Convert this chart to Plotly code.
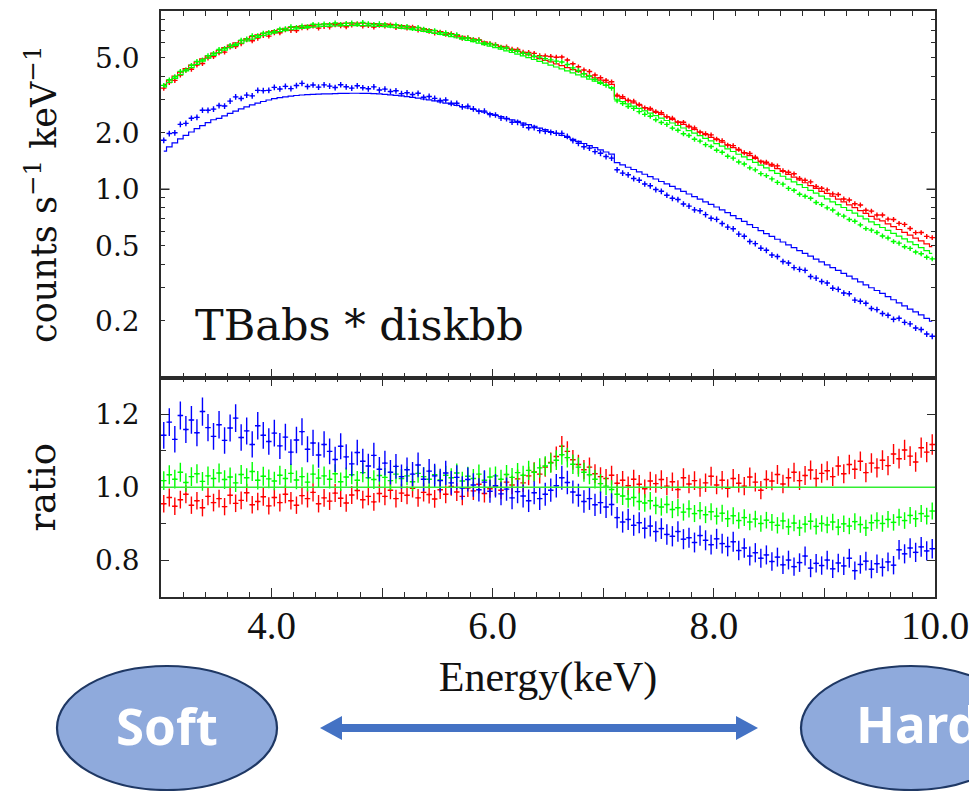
import plotly.graph_objects as go

# ---------------- data ----------------
ENERGY = [
    3.025, 3.075, 3.125, 3.175, 3.225, 3.275, 3.325, 3.375, 3.425, 3.475,
    3.525, 3.575, 3.625, 3.675, 3.725, 3.775, 3.825, 3.875, 3.925, 3.975,
    4.025, 4.075, 4.125, 4.175, 4.225, 4.275, 4.325, 4.375, 4.425, 4.475,
    4.525, 4.575, 4.625, 4.675, 4.725, 4.775, 4.825, 4.875, 4.925, 4.975,
    5.025, 5.075, 5.125, 5.175, 5.225, 5.275, 5.325, 5.375, 5.425, 5.475,
    5.525, 5.575, 5.625, 5.675, 5.725, 5.775, 5.825, 5.875, 5.925, 5.975,
    6.025, 6.075, 6.125, 6.175, 6.225, 6.275, 6.325, 6.375, 6.425, 6.475,
    6.525, 6.575, 6.625, 6.675, 6.725, 6.775, 6.825, 6.875, 6.925, 6.975,
    7.025, 7.075, 7.125, 7.175, 7.225, 7.275, 7.325, 7.375, 7.425, 7.475,
    7.525, 7.575, 7.625, 7.675, 7.725, 7.775, 7.825, 7.875, 7.925, 7.975,
    8.025, 8.075, 8.125, 8.175, 8.225, 8.275, 8.325, 8.375, 8.425, 8.475,
    8.525, 8.575, 8.625, 8.675, 8.725, 8.775, 8.825, 8.875, 8.925, 8.975,
    9.025, 9.075, 9.125, 9.175, 9.225, 9.275, 9.325, 9.375, 9.425, 9.475,
    9.525, 9.575, 9.625, 9.675, 9.725, 9.775, 9.825, 9.875, 9.925, 9.975,
]
BIN_HALF_WIDTH = 0.025

# folded model (counts s^-1 keV^-1)
MODEL_R = [
    3.613, 3.808, 4.002, 4.194, 4.384, 4.569, 4.756, 4.941, 5.125, 5.307,
    5.488, 5.665, 5.838, 6.007, 6.171, 6.329, 6.480, 6.622, 6.755, 6.877,
    6.989, 7.092, 7.183, 7.265, 7.336, 7.395, 7.448, 7.494, 7.534, 7.565,
    7.592, 7.613, 7.629, 7.640, 7.645, 7.645, 7.637, 7.624, 7.602, 7.575,
    7.576, 7.535, 7.486, 7.431, 7.370, 7.303, 7.232, 7.155, 7.074, 6.990,
    6.901, 6.810, 6.715, 6.617, 6.515, 6.411, 6.305, 6.198, 6.088, 5.977,
    5.864, 5.751, 5.639, 5.525, 5.411, 5.296, 5.183, 5.070, 4.959, 4.847,
    4.760, 4.650, 4.541, 4.432, 4.325, 4.220, 4.115, 4.012, 3.910, 3.810,
    3.710, 3.611, 3.132, 3.048, 2.964, 2.882, 2.801, 2.721, 2.643, 2.566,
    2.502, 2.428, 2.354, 2.283, 2.214, 2.146, 2.081, 2.016, 1.952, 1.891,
    1.840, 1.781, 1.723, 1.668, 1.614, 1.561, 1.510, 1.461, 1.412, 1.365,
    1.332, 1.288, 1.244, 1.202, 1.162, 1.123, 1.084, 1.047, 1.011, 0.976,
    0.951, 0.919, 0.887, 0.857, 0.827, 0.799, 0.771, 0.745, 0.719, 0.694,
    0.680, 0.656, 0.634, 0.612, 0.591, 0.571, 0.551, 0.532, 0.513, 0.496,
]
MODEL_G = [
    3.508, 3.697, 3.885, 4.072, 4.256, 4.436, 4.617, 4.797, 4.976, 5.152,
    5.328, 5.500, 5.668, 5.832, 5.991, 6.145, 6.291, 6.429, 6.558, 6.677,
    6.785, 6.885, 6.974, 7.053, 7.122, 7.180, 7.231, 7.276, 7.315, 7.345,
    7.371, 7.391, 7.407, 7.417, 7.422, 7.422, 7.415, 7.402, 7.381, 7.354,
    7.320, 7.280, 7.233, 7.180, 7.121, 7.056, 6.987, 6.913, 6.835, 6.754,
    6.668, 6.580, 6.488, 6.393, 6.295, 6.194, 6.092, 5.988, 5.882, 5.775,
    5.666, 5.557, 5.448, 5.338, 5.228, 5.117, 5.008, 4.899, 4.791, 4.683,
    4.577, 4.471, 4.366, 4.262, 4.159, 4.058, 3.957, 3.858, 3.760, 3.663,
    3.567, 3.472, 3.012, 2.931, 2.850, 2.771, 2.693, 2.616, 2.541, 2.467,
    2.394, 2.323, 2.253, 2.185, 2.119, 2.054, 1.991, 1.929, 1.868, 1.810,
    1.752, 1.696, 1.641, 1.589, 1.537, 1.487, 1.438, 1.391, 1.345, 1.300,
    1.257, 1.215, 1.174, 1.134, 1.096, 1.059, 1.023, 0.988, 0.954, 0.921,
    0.889, 0.859, 0.829, 0.801, 0.773, 0.747, 0.721, 0.696, 0.672, 0.649,
    0.627, 0.605, 0.584, 0.564, 0.545, 0.526, 0.508, 0.490, 0.473, 0.457,
]
MODEL_B = [
    1.596, 1.682, 1.768, 1.853, 1.936, 2.018, 2.101, 2.183, 2.264, 2.344,
    2.382, 2.459, 2.534, 2.607, 2.678, 2.747, 2.812, 2.874, 2.931, 2.985,
    3.033, 3.071, 3.103, 3.132, 3.155, 3.174, 3.189, 3.201, 3.211, 3.217,
    3.221, 3.230, 3.237, 3.241, 3.243, 3.243, 3.240, 3.235, 3.225, 3.214,
    3.199, 3.181, 3.161, 3.138, 3.112, 3.083, 3.053, 3.021, 2.987, 2.952,
    2.914, 2.875, 2.835, 2.794, 2.751, 2.707, 2.662, 2.617, 2.570, 2.524,
    2.476, 2.434, 2.386, 2.343, 2.300, 2.251, 2.209, 2.165, 2.118, 2.075,
    2.028, 1.981, 1.934, 1.888, 1.842, 1.798, 1.753, 1.709, 1.666, 1.623,
    1.580, 1.538, 1.386, 1.348, 1.311, 1.275, 1.239, 1.203, 1.169, 1.135,
    1.101, 1.069, 1.036, 1.005, 0.975, 0.945, 0.916, 0.887, 0.859, 0.833,
    0.806, 0.778, 0.752, 0.725, 0.699, 0.675, 0.650, 0.627, 0.604, 0.582,
    0.562, 0.543, 0.525, 0.507, 0.490, 0.473, 0.457, 0.442, 0.426, 0.412,
    0.397, 0.384, 0.371, 0.358, 0.346, 0.334, 0.322, 0.311, 0.300, 0.290,
    0.280, 0.269, 0.259, 0.249, 0.240, 0.231, 0.223, 0.215, 0.206, 0.199,
]

# data / model ratio
RATIO_R = [
    0.955, 0.972, 0.948, 0.966, 0.981, 0.951, 0.963, 0.944, 0.975, 0.958,
    0.969, 0.947, 0.978, 0.956, 0.964, 0.985, 0.952, 0.961, 0.974, 0.949,
    0.972, 0.958, 0.981, 0.963, 0.951, 0.977, 0.969, 0.986, 0.955, 0.971,
    0.962, 0.984, 0.970, 0.957, 0.979, 0.991, 0.966, 0.975, 0.960, 0.983,
    0.975, 0.992, 0.969, 0.984, 0.978, 0.997, 0.971, 0.986, 0.980, 0.968,
    0.993, 0.981, 1.002, 0.987, 0.975, 0.998, 0.990, 1.008, 0.983, 0.996,
    1.001, 0.992, 1.014, 1.006, 1.023, 1.012, 1.031, 1.042, 1.036, 1.055,
    1.068, 1.084, 1.112, 1.098, 1.075, 1.062, 1.048, 1.055, 1.037, 1.029,
    1.024, 1.033, 1.011, 1.019, 1.004, 1.022, 1.008, 0.996, 1.017, 1.010,
    1.021, 1.003, 1.015, 0.994, 1.026, 1.009, 1.018, 0.999, 1.012, 1.030,
    1.006, 1.019, 0.997, 1.024, 1.011, 1.003, 1.028, 1.014, 0.992, 1.021,
    1.017, 1.035, 1.009, 1.026, 1.041, 1.018, 1.032, 1.047, 1.024, 1.038,
    1.045, 1.029, 1.058, 1.037, 1.062, 1.049, 1.071, 1.040, 1.066, 1.053,
    1.074, 1.059, 1.091, 1.078, 1.102, 1.085, 1.069, 1.108, 1.096, 1.117,
]
RATIO_G = [
    1.018, 1.034, 1.022, 1.041, 1.013, 1.029, 1.037, 1.016, 1.031, 1.024,
    1.039, 1.021, 1.028, 1.012, 1.035, 1.026, 1.043, 1.019, 1.030, 1.023,
    1.017, 1.033, 1.024, 1.038, 1.020, 1.029, 1.014, 1.036, 1.025, 1.031,
    1.022, 1.037, 1.015, 1.028, 1.034, 1.019, 1.040, 1.026, 1.021, 1.032,
    1.027, 1.018, 1.036, 1.024, 1.031, 1.015, 1.038, 1.029, 1.022, 1.034,
    1.020, 1.033, 1.026, 1.039, 1.017, 1.030, 1.024, 1.036, 1.019, 1.028,
    1.031, 1.022, 1.035, 1.027, 1.040, 1.033, 1.046, 1.041, 1.053, 1.058,
    1.066, 1.074, 1.089, 1.081, 1.063, 1.055, 1.041, 1.034, 1.022, 1.010,
    1.003, 0.994, 0.981, 0.976, 0.968, 0.972, 0.961, 0.957, 0.963, 0.950,
    0.946, 0.953, 0.939, 0.944, 0.932, 0.941, 0.928, 0.936, 0.925, 0.933,
    0.921, 0.929, 0.914, 0.922, 0.909, 0.917, 0.905, 0.913, 0.901, 0.910,
    0.904, 0.896, 0.908, 0.892, 0.902, 0.889, 0.899, 0.907, 0.893, 0.901,
    0.897, 0.905, 0.891, 0.900, 0.894, 0.906, 0.898, 0.889, 0.903, 0.909,
    0.901, 0.912, 0.904, 0.918, 0.909, 0.923, 0.914, 0.928, 0.921, 0.935,
]
RATIO_B = [
    1.142, 1.178, 1.131, 1.196, 1.158, 1.184, 1.149, 1.207, 1.163, 1.139,
    1.171, 1.128, 1.162, 1.189, 1.136, 1.154, 1.117, 1.168, 1.142, 1.125,
    1.148, 1.113, 1.137, 1.096, 1.129, 1.152, 1.104, 1.121, 1.088, 1.117,
    1.098, 1.076, 1.112, 1.083, 1.064, 1.095, 1.071, 1.058, 1.087, 1.049,
    1.066, 1.041, 1.057, 1.029, 1.048, 1.036, 1.061, 1.022, 1.044, 1.031,
    1.018, 1.039, 1.012, 1.027, 0.998, 1.021, 1.006, 0.993, 1.014, 0.989,
    1.004, 0.982, 0.995, 0.971, 0.988, 0.976, 0.963, 0.985, 0.969, 0.981,
    0.992, 1.004, 1.026, 1.013, 0.987, 0.978, 0.961, 0.969, 0.952, 0.958,
    0.946, 0.953, 0.917, 0.905, 0.912, 0.896, 0.903, 0.888, 0.894, 0.879,
    0.887, 0.871, 0.866, 0.879, 0.858, 0.862, 0.849, 0.868, 0.855, 0.843,
    0.859, 0.846, 0.838, 0.851, 0.827, 0.834, 0.812, 0.821, 0.806, 0.815,
    0.797, 0.809, 0.788, 0.801, 0.783, 0.794, 0.812, 0.779, 0.792, 0.786,
    0.801, 0.777, 0.793, 0.785, 0.806, 0.772, 0.789, 0.798, 0.776, 0.791,
    0.781, 0.796, 0.787, 0.829, 0.818, 0.834, 0.822, 0.837, 0.826, 0.832,
]
ERR_PCT_TOP = {"r": 3.0, "g": 3.0, "b": 3.5}
ERR_PCT_RATIO = {"r": 2.5, "g": 2.5, "b": 3.2}

X_TICKS = [4, 5, 6, 7, 8, 9, 10]
X_TICKTEXT = ["4.0", "", "6.0", "", "8.0", "", "10.0"]
Y_TICKS = [0.2, 0.5, 1.0, 2.0, 5.0]
Y_TICKTEXT = ["0.2", "0.5", "1.0", "2.0", "5.0"]
Y_MINOR = [0.2, 0.3, 0.4, 0.5, 0.6, 0.7, 0.8, 0.9, 2, 3, 4, 5, 6, 7, 8]
R_TICKS = [0.8, 1.0, 1.2]
R_TICKTEXT = ["0.8", "1.0", "1.2"]
R_MINOR = [0.9, 1.1]

# ---------------- layout constants ----------------
W, H = 969, 791
ML, MR, MT, MB = 161, 34, 11, 194
PW, PH = W - ML - MR, H - MT - MB
SPLIT = (H - MB - 377.5) / PH

COL = {"r": "#ff0000", "g": "#00ff00", "b": "#0000ff"}
AXC = "#2b2b2b"


def px(x):
    return (x - ML) / PW


def py(y):
    return (H - MB - y) / PH


series = [
    ("r", MODEL_R, RATIO_R),
    ("g", MODEL_G, RATIO_G),
    ("b", MODEL_B, RATIO_B),
]

fig = go.Figure()
for key, model, ratio in series:
    data = [m * q for m, q in zip(model, ratio)]
    c = COL[key]
    fig.add_trace(go.Scatter(
        x=ENERGY, y=data, mode="markers", xaxis="x", yaxis="y",
        marker=dict(color=c, size=2),
        error_y=dict(type="percent", value=ERR_PCT_TOP[key], color=c, thickness=1.4, width=0),
        error_x=dict(type="constant", value=BIN_HALF_WIDTH, color=c, thickness=1.4, width=0),
        showlegend=False, hoverinfo="skip"))
    fig.add_trace(go.Scatter(
        x=ENERGY, y=model, mode="lines", xaxis="x", yaxis="y",
        line=dict(color=c, width=1.2, shape="hvh"),
        showlegend=False, hoverinfo="skip"))

for key, model, ratio in series:
    c = COL[key]
    fig.add_trace(go.Scatter(
        x=ENERGY, y=ratio, mode="markers", xaxis="x2", yaxis="y2",
        marker=dict(color=c, size=2),
        error_y=dict(type="percent", value=ERR_PCT_RATIO[key], color=c, thickness=1.4, width=0),
        error_x=dict(type="constant", value=BIN_HALF_WIDTH, color=c, thickness=1.4, width=0),
        showlegend=False, hoverinfo="skip"))

axis_common = dict(showline=True, linecolor=AXC, linewidth=1.5, mirror="ticks",
                   ticks="inside", tickcolor=AXC, showgrid=False, zeroline=False,
                   automargin=False)

fig.update_layout(
    width=W, height=H,
    margin=dict(l=ML, r=MR, t=MT, b=MB, pad=0, autoexpand=False),
    paper_bgcolor="white", plot_bgcolor="white",
    showlegend=False,
    xaxis=dict(domain=[0, 1], anchor="y", range=[3, 10], tickvals=X_TICKS,
               ticktext=X_TICKTEXT, showticklabels=False, ticklen=9,
               minor=dict(dtick=0.2, tick0=3, ticks="inside", ticklen=5, tickcolor=AXC),
               **axis_common),
    yaxis=dict(domain=[SPLIT, 1], anchor="x", type="log", range=[-1.0, 0.948],
               tickvals=Y_TICKS, ticktext=Y_TICKTEXT, ticklen=4,
               minor=dict(tickvals=Y_MINOR, ticks="inside", ticklen=4, tickcolor=AXC),
               tickfont=dict(family="DejaVu Serif", size=28, color="#111"),
               ticklabelstandoff=14,
               title=dict(text="counts s<sup>−1</sup> keV<sup>−1</sup>",
                          font=dict(family="DejaVu Serif", size=35, color="#111"),
                          standoff=28),
               **axis_common),
    xaxis2=dict(domain=[0, 1], anchor="y2", matches="x", range=[3, 10],
                tickvals=X_TICKS, ticktext=X_TICKTEXT, ticklen=9,
                minor=dict(dtick=0.2, tick0=3, ticks="inside", ticklen=5, tickcolor=AXC),
                tickfont=dict(family="Liberation Serif", size=39, color="#111"),
                ticklabelstandoff=-7, ticklabeloverflow="allow",
                title=dict(text="Energy(keV)",
                           font=dict(family="Liberation Serif", size=42, color="#111"),
                           standoff=16),
                **axis_common),
    yaxis2=dict(domain=[0, SPLIT], anchor="x2", range=[0.7, 1.3],
                tickvals=R_TICKS, ticktext=R_TICKTEXT, ticklen=8,
                minor=dict(tickvals=R_MINOR, ticks="inside", ticklen=5, tickcolor=AXC),
                tickfont=dict(family="DejaVu Serif", size=28, color="#111"),
                ticklabelstandoff=14,
                title=dict(text="ratio",
                           font=dict(family="DejaVu Serif", size=37, color="#111"),
                           standoff=28),
                **axis_common),
)

shapes = [
    # ratio = 1 reference line
    dict(type="line", xref="x2 domain", yref="y2", x0=0, x1=1, y0=1, y1=1,
         line=dict(color="#33ee33", width=1.6), layer="above"),
    # longer ticks at 1.0 on the log axis
    dict(type="line", xref="x domain", yref="y", x0=0, x1=0.011, y0=1, y1=1,
         line=dict(color=AXC, width=1.5)),
    dict(type="line", xref="x domain", yref="y", x0=0.989, x1=1, y0=1, y1=1,
         line=dict(color=AXC, width=1.5)),
    # Soft / Hard ellipses
    dict(type="circle", xref="paper", yref="paper",
         x0=px(57), x1=px(277), y0=py(790), y1=py(666),
         fillcolor="#8faadc", line=dict(color="#1f3864", width=2.2)),
    dict(type="circle", xref="paper", yref="paper",
         x0=px(801), x1=px(1021), y0=py(790), y1=py(666),
         fillcolor="#8faadc", line=dict(color="#1f3864", width=2.2)),
    # double-headed arrow
    dict(type="rect", xref="paper", yref="paper",
         x0=px(340), x1=px(738), y0=py(732), y1=py(724),
         fillcolor="#4472c4", line=dict(width=0)),
    dict(type="path", xref="paper", yref="paper",
         path=f"M {px(320)},{py(728)} L {px(342)},{py(716)} L {px(342)},{py(740)} Z",
         fillcolor="#4472c4", line=dict(width=0)),
    dict(type="path", xref="paper", yref="paper",
         path=f"M {px(758)},{py(728)} L {px(736)},{py(716)} L {px(736)},{py(740)} Z",
         fillcolor="#4472c4", line=dict(width=0)),
]
fig.update_layout(shapes=shapes)

fig.add_annotation(text="TBabs * diskbb", xref="paper", yref="paper",
                   x=px(193), y=py(325), xanchor="left", yanchor="middle",
                   showarrow=False,
                   font=dict(family="DejaVu Serif", size=43, color="#111"))
fig.add_annotation(text="<b>Soft</b>", xref="paper", yref="paper",
                   x=px(167), y=py(725), xanchor="center", yanchor="middle",
                   showarrow=False, font=dict(family="Noto Sans", size=51, color="white"))
fig.add_annotation(text="<b>Hard</b>", xref="paper", yref="paper",
                   x=px(918), y=py(723), xanchor="center", yanchor="middle",
                   showarrow=False, font=dict(family="Noto Sans", size=51, color="white"))

fig.write_html("out.html")
